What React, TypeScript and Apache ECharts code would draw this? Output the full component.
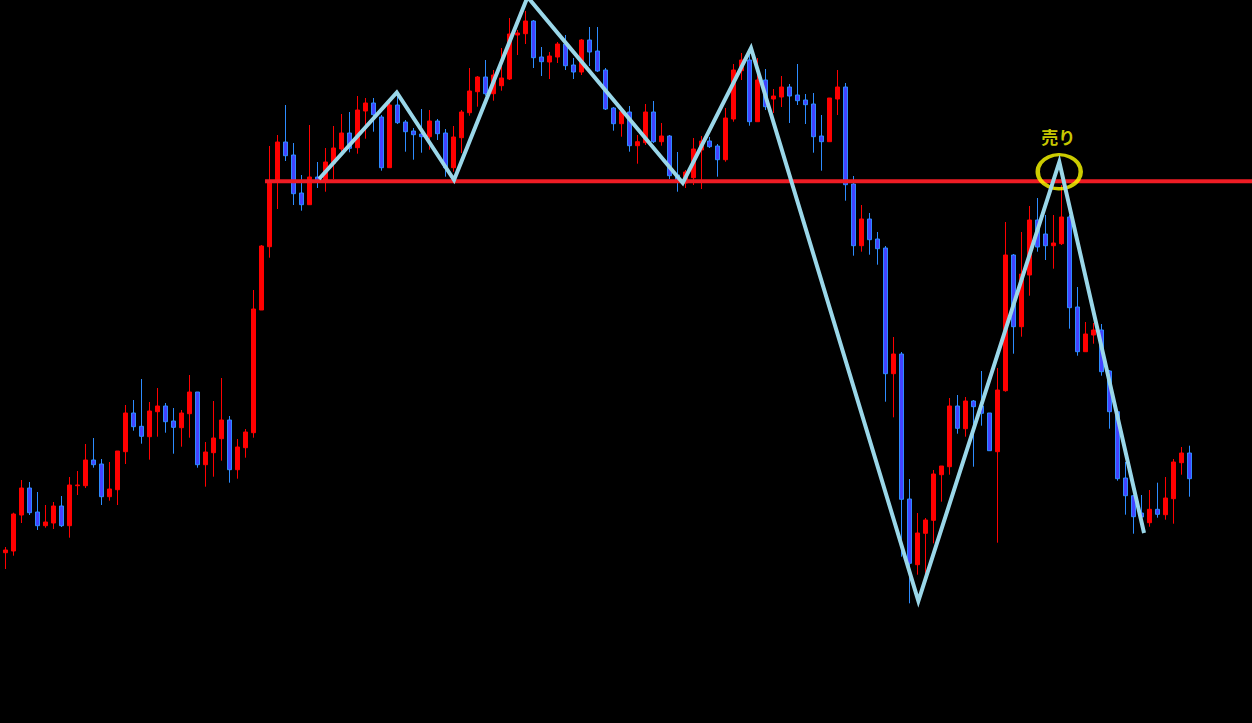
import React, { useEffect, useRef } from "react";
import * as echarts from "echarts";

// Candles: [open, close, low, high] (price units)
const candles: number[][] = [
  [170.3, 173, 154, 176], [172, 209, 167.3, 210.3], [208, 235, 200, 243], [235, 210.3, 208, 241],
  [211, 197.3, 193, 231], [197.3, 201, 195.3, 218], [200, 217, 194, 221], [217, 197.3, 196, 227],
  [197.3, 238, 185.3, 246], [237.3, 238, 228, 252], [237.3, 263, 235, 279], [263, 258.3, 255.3, 285],
  [259, 226.3, 218, 264], [226.3, 234, 222.3, 261], [233.3, 272, 218, 272], [271.3, 310, 259, 318],
  [310, 296.3, 292.3, 323], [296.7, 286.7, 279.3, 344], [286.3, 312, 263.3, 321], [311.3, 317, 286.3, 335],
  [317, 301.3, 290.3, 320], [302, 295.7, 269.3, 315], [295.3, 310, 276.3, 313], [309.3, 331, 285.3, 348],
  [331, 258.3, 255.3, 331], [258.3, 271, 236.3, 281], [270.3, 285, 246.3, 322], [284.3, 303, 262.3, 345],
  [303, 253.3, 240.3, 307], [253.3, 276, 244.3, 284], [275.3, 291, 265.3, 294], [290.3, 414, 285.3, 433],
  [413, 477, 413, 478], [476.3, 541.3, 465.3, 577], [541.3, 581, 514, 588], [581, 567.3, 562, 618],
  [568, 529.3, 518, 580], [530, 518.3, 512.3, 548], [518.3, 546, 518.3, 598], [546, 543, 535, 561],
  [543, 561, 531.3, 575], [559.7, 575, 544, 597], [574, 590, 567, 609], [590, 574.7, 570.7, 611],
  [575.3, 613, 569.3, 627], [612, 620, 584.3, 625], [620, 608.3, 591.3, 625], [606, 555.3, 552.3, 608],
  [555.3, 618, 555.3, 623], [618, 600.3, 599, 630], [601, 591.3, 571.3, 603], [592, 588.3, 563.3, 595],
  [589, 586.3, 570.3, 614], [586.3, 602, 573.3, 613], [602, 589.3, 583, 604], [590, 555.3, 546.3, 594],
  [555.3, 586, 551.3, 597], [585.3, 611, 570, 613], [610.3, 632, 607.3, 655], [631.3, 646, 616.3, 647],
  [646, 629.3, 627.3, 663], [629.3, 648, 622.3, 653], [637.3, 645, 632.3, 675], [644, 689, 643, 705],
  [688, 690, 668, 693], [689.3, 702, 679, 712], [702, 665.3, 655, 703], [666, 661.3, 647, 676],
  [661, 667, 644, 671], [666, 679, 660, 681], [679, 657.3, 653, 688], [658, 651, 644, 665],
  [651, 683, 648, 684], [683, 671, 657, 696], [672, 652, 651, 696], [653, 614, 613, 655],
  [615, 599.3, 592.3, 616], [599.3, 611.3, 586.3, 615], [611, 577.3, 571.3, 617], [577.3, 581.3, 559.3, 588],
  [580.3, 611, 578, 619], [611, 581.3, 580, 622], [581.3, 587, 577.3, 600], [587, 547.3, 544, 588],
  [548, 541, 531.3, 571], [540, 551, 535, 553], [545.3, 574, 538, 585], [573, 582, 534, 587],
  [582, 576.3, 575, 586], [577, 563.3, 546.3, 579], [563.3, 605, 561.3, 615], [604, 653, 601.3, 659],
  [652.3, 663, 643, 670], [663, 601.3, 597.3, 668], [601.3, 643, 601.3, 665], [643, 616.3, 613, 654],
  [624, 627, 610, 634], [626, 636, 616, 647], [636, 627, 600, 639], [628, 622.3, 618, 659],
  [623, 618.3, 599, 629], [619, 586.3, 570.3, 630], [587, 581.3, 552.3, 608], [581.3, 625, 581.3, 625],
  [624, 636, 608, 653], [636, 538.3, 522.3, 640], [539, 477.3, 467.3, 547], [477.3, 504, 471.3, 518],
  [504, 483.3, 468.3, 510], [484, 474.3, 458.3, 491], [475, 349.3, 321.3, 477], [349.3, 369, 305.7, 386],
  [369, 223.7, 166.3, 371], [224, 159.7, 119.7, 244], [158.3, 190, 148.3, 210], [189.7, 203, 148, 205],
  [202.7, 249, 179.7, 253], [248.3, 257, 221.3, 257], [256.3, 317, 248.3, 325], [317, 294.7, 289.3, 328],
  [294.3, 322, 286.3, 326], [322, 316.3, 256.3, 323], [317, 309.7, 297.3, 352], [310, 272.3, 272, 310],
  [271.3, 333, 180.3, 355], [332.3, 468, 331.3, 501], [468, 396.3, 369.3, 469], [396.3, 449, 386.3, 491],
  [448, 503, 427.3, 517], [503, 476, 471.3, 525], [489, 477.3, 463, 508], [477.3, 480, 454.3, 508],
  [479.3, 506, 478, 538], [506, 415.3, 394.3, 508], [416, 371.3, 367.3, 436], [371.3, 389, 371, 401],
  [388, 393, 379.3, 400], [393, 351.3, 347.3, 399], [352, 311.3, 294.3, 353], [311.3, 244.3, 242.3, 312],
  [245, 227.3, 208.3, 261], [227.3, 206.3, 189.3, 228], [210, 206, 205, 228], [200.3, 213.7, 196.3, 233],
  [213.7, 208.7, 205.3, 240.3], [208.3, 225, 203.3, 246], [224.3, 261, 199.3, 264], [260.3, 270, 248.3, 276],
  [270, 244.3, 226.3, 277.3],
];

const TOTAL_SLOTS = 156; // visible bar slots (empty space to the right of the last candle)
const categories: string[] = Array.from({ length: TOTAL_SLOTS }, (_, i) => String(i + 1));

// Zigzag (bar position, price)
const zigzag: number[][] = [
  [39.71, 544], [49.43, 630.5], [56.59, 543], [65.78, 726], [85.18, 540],
  [93.71, 675], [114.63, 122], [132.25, 561], [142.84, 190],
];

// Horizontal support/resistance level
const levelPrice = 541.7;
const levelStart = 32.96;
const levelEnd = 156.5;

// Sell signal marker
const signalPoint: number[] = [132.24, 551.3];
const signalLabelPoint: number[] = [132.13, 586.3];
const signalText = "売り";

export default function App() {
  const ref = useRef<HTMLDivElement>(null);

  useEffect(() => {
    document.body.style.margin = "0";
    document.body.style.background = "#000";
    const chart = echarts.init(ref.current!, null, { renderer: "svg" });
    chart.setOption({
      animation: false,
      backgroundColor: "#000000",
      grid: { left: 1.33, top: 0, width: 1248, height: 723, containLabel: false },
      xAxis: [
        {
          type: "category",
          data: categories,
          boundaryGap: true,
          show: false,
        },
        {
          type: "value",
          min: 0,
          max: TOTAL_SLOTS,
          show: false,
        },
      ],
      yAxis: {
        type: "value",
        min: 0,
        max: 723,
        show: false,
        splitLine: { show: false },
      },
      series: [
        {
          type: "candlestick",
          data: candles,
          xAxisIndex: 0,
          barWidth: 4,
          itemStyle: {
            color: "#ff0000",
            borderColor: "#ff0000",
            color0: "#4343ff",
            borderColor0: "#2d8cff",
            borderWidth: 1,
          },
          z: 1,
        },
        {
          type: "line",
          xAxisIndex: 1,
          data: [
            [levelStart, levelPrice],
            [levelEnd, levelPrice],
          ],
          clip: false,
          symbol: "none",
          lineStyle: { color: "#ee1c24", width: 4 },
          z: 2,
        },
        {
          type: "scatter",
          xAxisIndex: 1,
          data: [signalPoint],
          symbol: "circle",
          symbolSize: [43, 34],
          itemStyle: { color: "rgba(0,0,0,0)", borderColor: "#ffff00", borderWidth: 4 },
          z: 3,
        },
        {
          type: "line",
          xAxisIndex: 1,
          data: zigzag,
          symbol: "none",
          lineStyle: { color: "#9ad7e9", width: 4, join: "miter" },
          z: 4,
        },
        {
          type: "scatter",
          xAxisIndex: 1,
          data: [signalLabelPoint],
          symbolSize: 1,
          itemStyle: { color: "rgba(0,0,0,0)" },
          label: {
            show: true,
            position: "inside",
            formatter: signalText,
            color: "#ffff00",
            fontSize: 17,
            fontWeight: "bold",
            fontFamily: "'Noto Sans CJK JP', sans-serif",
          },
          z: 5,
        },
      ],
    });
    return () => chart.dispose();
  }, []);

  return (
    <div
      ref={ref}
      style={{ position: "fixed", left: 0, top: 0, width: 1252, height: 723, background: "#000" }}
    />
  );
}
